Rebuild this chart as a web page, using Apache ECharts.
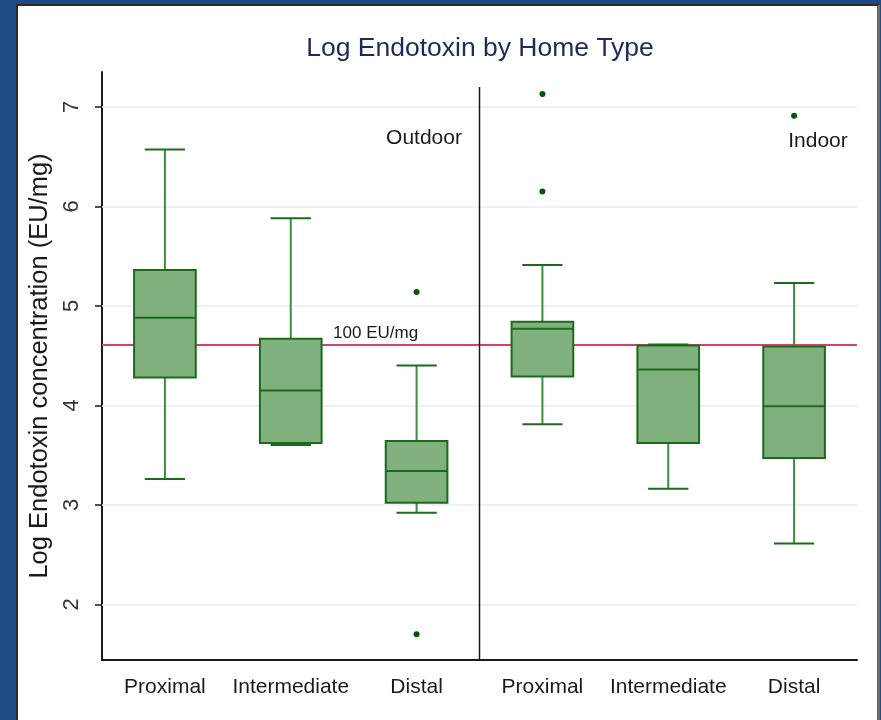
<!DOCTYPE html>
<html>
<head>
<meta charset="utf-8">
<script src="https://cdn.jsdelivr.net/npm/echarts@6/dist/echarts.min.js"></script>
<style>
  html, body { margin: 0; padding: 0; background: #1d4a85; width: 881px; height: 720px; overflow: hidden; }
  #panel {
    position: absolute; left: 16px; top: 4px; width: 864px; height: 720px;
    background: #ffffff; border-top: 2px solid #2b2b2b; border-left: 2px solid #2b2b2b; border-right: 3px solid #6a6a6a;
    box-sizing: border-box;
  }
  #chart { position: absolute; left: 0; top: 0; width: 881px; height: 720px; }
</style>
</head>
<body>
<div id="panel"></div>
<div id="chart"></div>
<script>
// Home types and sampling locations
const homeTypes = ['Outdoor', 'Indoor'];
const locations = ['Proximal', 'Intermediate', 'Distal'];

// Box statistics, one entry per home type / location (natural log of EU/mg)
const lowWhisker  = [3.26, 3.60, 2.92, 3.81, 3.16, 2.61];
const q1          = [4.28, 3.62, 3.02, 4.29, 3.62, 3.47];
const median      = [4.88, 4.15, 3.34, 4.77, 4.36, 3.99];
const q3          = [5.36, 4.67, 3.64, 4.84, 4.60, 4.59];
const highWhisker = [6.57, 5.88, 4.40, 5.41, 4.61, 5.23];

// Outside values: [group index, value]
const outliers = [[2, 5.14], [2, 1.70], [3, 7.13], [3, 6.15], [5, 6.91]];

// Axis ticks and reference level
const yTicks = [2, 3, 4, 5, 6, 7];
const yMin = 1.44, yMax = 7.35;
const referenceValue = 4.605;          // ln(100)
const referenceLabel = '100 EU/mg';
const dividerTop = 7.2;

const categories = [];
homeTypes.forEach(h => locations.forEach(l => categories.push(h + '|' + l)));
const boxRows = categories.map((c, i) => [i, lowWhisker[i], q1[i], median[i], q3[i], highWhisker[i]]);

const FONT = 'Liberation Sans, Arial, sans-serif';
const BOX_FILL = '#80b07d';
const BOX_EDGE = '#1c6b1c';
const WHISKER = '#3f8c3f';

const chart = echarts.init(document.getElementById('chart'), null, { renderer: 'canvas' });

function renderBox(params, api) {
  const i = api.value(0);
  const band = api.size([1, 0])[0];
  const cx = api.coord([i, api.value(3)])[0];
  const yLo = api.coord([i, api.value(1)])[1];
  const yQ1 = api.coord([i, api.value(2)])[1];
  const yMed = api.coord([i, api.value(3)])[1];
  const yQ3 = api.coord([i, api.value(4)])[1];
  const yHi = api.coord([i, api.value(5)])[1];
  const bw = band * 0.49, cw = band * 0.32;
  const wStyle = { stroke: WHISKER, lineWidth: 2 };
  return {
    type: 'group',
    children: [
      { type: 'line', shape: { x1: cx, y1: yQ3, x2: cx, y2: yHi }, style: wStyle },
      { type: 'line', shape: { x1: cx, y1: yQ1, x2: cx, y2: yLo }, style: wStyle },
      { type: 'line', shape: { x1: cx - cw / 2, y1: yHi, x2: cx + cw / 2, y2: yHi }, style: { stroke: BOX_EDGE, lineWidth: 2 } },
      { type: 'line', shape: { x1: cx - cw / 2, y1: yLo, x2: cx + cw / 2, y2: yLo }, style: { stroke: BOX_EDGE, lineWidth: 2 } },
      { type: 'rect', shape: { x: cx - bw / 2, y: yQ3, width: bw, height: yQ1 - yQ3 },
        style: { fill: BOX_FILL, stroke: BOX_EDGE, lineWidth: 2 } },
      { type: 'line', shape: { x1: cx - bw / 2, y1: yMed, x2: cx + bw / 2, y2: yMed }, style: { stroke: BOX_EDGE, lineWidth: 2 } }
    ]
  };
}

function renderDivider(params, api) {
  const i = api.value(0);
  const band = api.size([1, 0])[0];
  const top = api.coord([i, api.value(1)]);
  const bottom = api.coord([i, yMin]);
  const x = top[0] + band / 2;
  return { type: 'line', shape: { x1: x, y1: top[1], x2: x, y2: bottom[1] }, style: { stroke: '#1a1a1a', lineWidth: 1.5 } };
}

chart.setOption({
  animation: false,
  backgroundColor: 'transparent',
  grid: { left: 102, right: 24, top: 72, bottom: 60, containLabel: false },
  graphic: [
    { type: 'text', x: 480, y: 49, style: { text: 'Log Endotoxin by Home Type', font: '26.5px ' + FONT, fill: '#1e2b58', align: 'center', verticalAlign: 'middle' } },
    { type: 'text', x: 424, y: 138, style: { text: homeTypes[0], font: '21px ' + FONT, fill: '#1a1a1a', align: 'center', verticalAlign: 'middle' } },
    { type: 'text', x: 818, y: 141, style: { text: homeTypes[1], font: '21px ' + FONT, fill: '#1a1a1a', align: 'center', verticalAlign: 'middle' } }
  ],
  xAxis: {
    type: 'category',
    data: categories,
    axisLine: { lineStyle: { color: '#1a1a1a', width: 2 } },
    axisTick: { show: false },
    axisLabel: { formatter: v => v.split('|')[1], color: '#1a1a1a', fontFamily: FONT, fontSize: 21, margin: 17, interval: 0 },
    splitLine: { show: false }
  },
  yAxis: {
    type: 'value',
    min: yMin, max: yMax,
    name: 'Log Endotoxin concentration (EU/mg)',
    nameLocation: 'middle',
    nameGap: 48,
    nameTextStyle: { color: '#1a1a1a', fontFamily: FONT, fontSize: 25.5 },
    axisLine: { show: true, lineStyle: { color: '#1a1a1a', width: 2 } },
    axisTick: { show: true, length: 7, customValues: yTicks, lineStyle: { color: '#1a1a1a', width: 1.5 } },
    axisLabel: { customValues: yTicks, rotate: 90, color: '#333', fontFamily: FONT, fontSize: 22, margin: 19 },
    splitLine: { show: false }
  },
  series: [
    {
      name: 'grid',
      type: 'custom',
      silent: true,
      data: [],
      renderItem: () => null,
      z: 1,
      markLine: {
        silent: true, symbol: 'none', animation: false, z: 1,
        label: { show: false },
        lineStyle: { color: '#e9eeee', width: 1.5, type: 'solid' },
        data: yTicks.map(v => ({ yAxis: v }))
      }
    },
    {
      name: 'reference',
      type: 'custom',
      silent: true,
      data: [],
      renderItem: () => null,
      z: 2,
      markLine: {
        silent: true, symbol: 'none', animation: false, z: 2,
        label: { show: false },
        lineStyle: { color: '#d1456c', width: 2, type: 'solid' },
        data: [{ yAxis: referenceValue }]
      }
    },
    {
      name: 'divider',
      type: 'custom',
      silent: true,
      data: [[2, dividerTop]],
      renderItem: renderDivider,
      z: 3
    },
    {
      name: 'boxes',
      type: 'custom',
      data: boxRows,
      renderItem: renderBox,
      encode: { x: 0, y: [1, 2, 3, 4, 5] },
      z: 10
    },
    {
      name: 'outliers',
      type: 'scatter',
      data: outliers,
      symbol: 'circle',
      symbolSize: 6,
      itemStyle: { color: '#085408', opacity: 1 },
      z: 11,
      markPoint: {
        symbol: 'circle', symbolSize: 0, silent: true,
        label: { show: true, formatter: referenceLabel, position: 'top', offset: [-41, 2], color: '#1a1a1a', fontFamily: FONT, fontSize: 17 },
        data: [{ coord: [2, referenceValue] }]
      }
    }
  ]
});
</script>
</body>
</html>
